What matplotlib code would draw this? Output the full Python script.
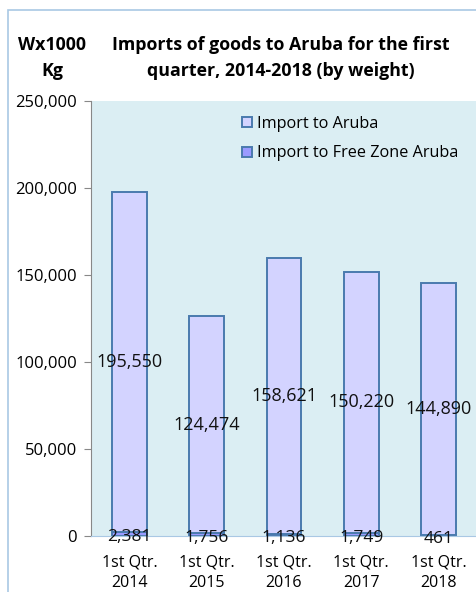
import matplotlib
matplotlib.use("Agg")
import matplotlib.pyplot as plt
from matplotlib.patches import Rectangle

# Data
quarters = ["1st Qtr.\n2014", "1st Qtr.\n2015", "1st Qtr.\n2016",
            "1st Qtr.\n2017", "1st Qtr.\n2018"]
free_zone = [2381, 1756, 1136, 1749, 461]
aruba = [195550, 124474, 158621, 150220, 144890]
yticks = [0, 50000, 100000, 150000, 200000, 250000]

aruba_color = "#D3D3FF"
free_color = "#9A9AFF"
edge_color = "#4A7AAE"
bg_color = "#DBEEF3"

plt.rcParams["font.family"] = ["Open Sans", "DejaVu Sans"]

fig = plt.figure(figsize=(4.77, 5.92), dpi=100)

# light blue frame around the chart (cropped at right/bottom)
fig.patches.append(Rectangle((8 / 477, -0.05), 1.2, 1 - 10 / 592 + 0.05,
                             transform=fig.transFigure, fill=False,
                             edgecolor="#A9C8E4", linewidth=1.2))

ax = fig.add_axes([91 / 477, 1 - 536 / 592, (477 - 91) / 477, 435 / 592])
ax.set_facecolor(bg_color)

x = list(range(len(quarters)))
b1 = ax.bar(x, free_zone, width=0.45, color=free_color, edgecolor=edge_color,
            linewidth=1.4, label="Import to Free Zone Aruba")
b2 = ax.bar(x, aruba, width=0.45, bottom=free_zone, color=aruba_color,
            edgecolor=edge_color, linewidth=1.4, label="Import to Aruba")

for i in x:
    ax.text(i, free_zone[i] / 2 - 2000, f"{free_zone[i]:,}", ha="center",
            va="center", fontsize=12.5, color="#111111")
    ax.text(i, free_zone[i] + aruba[i] / 2, f"{aruba[i]:,}", ha="center",
            va="center", fontsize=13, color="#111111")

ax.set_xlim(-0.5, 4.5)
ax.set_ylim(0, 250000)
ax.set_yticks(yticks)
ax.set_yticklabels([f"{v:,}" for v in yticks], fontsize=12)
ax.set_xticks(x)
ax.set_xticklabels(quarters, fontsize=11.5, linespacing=1.45)
ax.tick_params(axis="x", length=0, pad=13)
ax.tick_params(axis="y", direction="out", length=5, color="#888888", pad=5)

for side in ["top", "right"]:
    ax.spines[side].set_visible(False)
ax.spines["left"].set_color("#888888")
ax.spines["bottom"].set_color("#A9C8E4")

ax.legend([b2, b1], ["Import to Aruba", "Import to Free Zone Aruba"],
          loc="upper left", bbox_to_anchor=(0.37, 0.985), frameon=False,
          fontsize=11.7, handlelength=0.6, handleheight=0.6,
          handletextpad=0.35, labelspacing=0.85, borderpad=0)

fig.text(281 / 477, 1 - 58 / 592,
         "Imports of goods to Aruba for the first\nquarter, 2014-2018 (by weight)",
         ha="center", va="center", fontsize=12.8, fontweight="bold",
         linespacing=1.6)
fig.text(52 / 477, 1 - 58 / 592, "Wx1000\nKg", ha="center", va="center",
         fontsize=12.8, fontweight="bold", linespacing=1.6)

fig.savefig("out.png", dpi=100)
